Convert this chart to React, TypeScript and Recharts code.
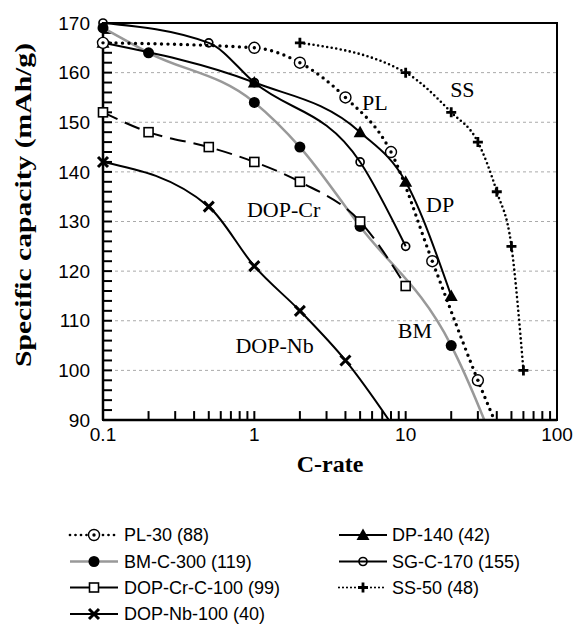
import React from 'react';
import { LineChart, Line, XAxis, YAxis, CartesianGrid, ReferenceArea, ReferenceDot, ReferenceLine, Legend, Label } from 'recharts';

// C-rate (x) and specific capacity in mAh/g (y) for every sample
const plRate = [0.1, 1, 2, 4, 8, 15, 30, 50];
const plCap = [166, 165, 162, 155, 144, 122, 98, 82];

const dpRate = [0.1, 1, 5, 10, 20];
const dpCap = [166, 158, 148, 138, 115];

const bmRate = [0.1, 0.2, 1, 2, 5, 20, 50];
const bmCap = [169, 164, 154, 145, 129, 105, 76];

const sgRate = [0.1, 0.5, 1, 5, 10];
const sgCap = [170, 166, 158, 142, 125];

const crRate = [0.1, 0.2, 0.5, 1, 2, 5, 10];
const crCap = [152, 148, 145, 142, 138, 130, 117];

const ssRate = [2, 10, 20, 30, 40, 50, 60];
const ssCap = [166, 160, 152, 146, 136, 125, 100];

const nbRate = [0.1, 0.5, 1, 2, 4, 10];
const nbCap = [142, 133, 121, 112, 102, 85];

// axis ticks (labelled) and the small inward tick marks
const xTicks = [0.1, 1, 10, 100];
const xMinor = [
  0.2, 0.3, 0.4, 0.5, 0.6, 0.7, 0.8, 0.9,
  1, 2, 3, 4, 5, 6, 7, 8, 9,
  10, 20, 30, 40, 50, 60, 70, 80, 90,
];
const yTicks = [90, 100, 110, 120, 130, 140, 150, 160, 170];
const yMinor = Array.from({ length: 39 }, (_, i) => 92 + i * 2);

// in-plot labels
const noteText = ['PL', 'SS', 'DP', 'DOP-Cr', 'DOP-Nb', 'BM'];
const noteRate = [6.25, 23.7, 16.9, 1.56, 1.36, 11.5];
const noteCap = [154, 156.6, 133.4, 132.4, 105, 108];

const SANS = '"Liberation Sans", Arial, sans-serif';
const SERIF = '"Liberation Serif", "Times New Roman", serif';

type Mark = (cx: number, cy: number) => React.ReactNode;

const ring: Mark = (cx, cy) => (
  <>
    <circle cx={cx} cy={cy} r={5.5} fill="#fff" stroke="#000" strokeWidth={1.4} />
    <circle cx={cx} cy={cy} r={1.7} fill="#000" />
  </>
);
const tri: Mark = (cx, cy) => (
  <polygon points={`${cx},${cy - 6.5} ${cx + 6.5},${cy + 5} ${cx - 6.5},${cy + 5}`} fill="#000" />
);
const disc: Mark = (cx, cy) => <circle cx={cx} cy={cy} r={5.5} fill="#000" />;
const hollow: Mark = (cx, cy) => <circle cx={cx} cy={cy} r={4} fill="none" stroke="#000" strokeWidth={1.7} />;
const square: Mark = (cx, cy) => (
  <rect x={cx - 4.5} y={cy - 4.5} width={9} height={9} fill="#fff" stroke="#000" strokeWidth={1.6} />
);
const plus: Mark = (cx, cy) => (
  <path d={`M${cx - 5},${cy}H${cx + 5}M${cx},${cy - 5}V${cy + 5}`} stroke="#000" strokeWidth={2.8} />
);
const cross: Mark = (cx, cy) => (
  <path d={`M${cx - 5},${cy - 5}L${cx + 5},${cy + 5}M${cx + 5},${cy - 5}L${cx - 5},${cy + 5}`} stroke="#000" strokeWidth={3} />
);

interface Series {
  name: string;
  rate: number[];
  cap: number[];
  stroke: string;
  width: number;
  dash?: string;
  round?: boolean;
  legendDash?: string;
  mark: Mark;
}

const SERIES: Series[] = [
  { name: 'BM-C-300 (119)', rate: bmRate, cap: bmCap, stroke: '#999', width: 2.5, mark: disc },
  { name: 'DOP-Cr-C-100 (99)', rate: crRate, cap: crCap, stroke: '#000', width: 2, dash: '16 8', mark: square },
  { name: 'DOP-Nb-100 (40)', rate: nbRate, cap: nbCap, stroke: '#000', width: 2, mark: cross },
  { name: 'SG-C-170 (155)', rate: sgRate, cap: sgCap, stroke: '#000', width: 2, mark: hollow },
  { name: 'DP-140 (42)', rate: dpRate, cap: dpCap, stroke: '#000', width: 2, mark: tri },
  { name: 'PL-30 (88)', rate: plRate, cap: plCap, stroke: '#000', width: 3.4, dash: '0 6.5', round: true, legendDash: '0 5.5', mark: ring },
  { name: 'SS-50 (48)', rate: ssRate, cap: ssCap, stroke: '#000', width: 2.6, dash: '0 4.6', round: true, legendDash: '0 4', mark: plus },
];

// legend: [series name, column, row]
const legendOrder: [string, number, number][] = [
  ['PL-30 (88)', 0, 0],
  ['BM-C-300 (119)', 0, 1],
  ['DOP-Cr-C-100 (99)', 0, 2],
  ['DOP-Nb-100 (40)', 0, 3],
  ['DP-140 (42)', 1, 0],
  ['SG-C-170 (155)', 1, 1],
  ['SS-50 (48)', 1, 2],
];

const toPoints = (rate: number[], cap: number[]) => rate.map((c, i) => ({ c, cap: cap[i] }));

// tick mark lengths, in axis units (about 9px each)
const X_TICK_LEN = 1.8; // capacity units, for marks on the C-rate axis
const Y_TICK_FACTOR = 1.147; // log step, for marks on the capacity axis

const LegendBox = () => {
  const colX = [70, 339];
  const rowY = [20, 46.5, 72.5, 99];
  return (
    <svg width={585} height={115} style={{ display: 'block' }}>
      {legendOrder.map(([name, col, row]) => {
        const s = SERIES.find((d) => d.name === name)!;
        const x0 = colX[col];
        const y = rowY[row];
        return (
          <g key={name}>
            <line
              x1={x0}
              x2={x0 + 48}
              y1={y}
              y2={y}
              stroke={s.stroke}
              strokeWidth={s.round ? s.width * 0.8 : s.width}
              strokeDasharray={s.legendDash}
              strokeLinecap={s.round ? 'round' : 'butt'}
            />
            {s.mark(x0 + 24, y)}
            <text x={col === 0 ? 124 : 392} y={y} dominantBaseline="central" fontFamily={SANS} fontSize={18} fill="#000">
              {name}
            </text>
          </g>
        );
      })}
    </svg>
  );
};

export default function App() {
  return (
    <div style={{ position: 'absolute', left: 0, top: 0 }}>
      <LineChart width={585} height={639} margin={{ top: 23, right: 28, left: 0, bottom: 159 }}>
        <CartesianGrid horizontal vertical={false} stroke="#aaa" strokeDasharray="3 3" />
        <XAxis
          dataKey="c"
          type="number"
          scale="log"
          domain={[0.1, 100]}
          ticks={xTicks}
          interval={0}
          height={60}
          tickLine={false}
          axisLine={{ stroke: '#000', strokeWidth: 2.5 }}
          tick={{ fill: '#000', fontSize: 19, fontFamily: SANS }}
          tickFormatter={(v: number) => String(v)}
        >
          <Label
            content={(props: any) => {
              const vb = props.viewBox;
              return (
                <text x={vb.x + vb.width / 2} y={vb.y + 52} textAnchor="middle" fontFamily={SERIF} fontWeight="bold" fontSize={24} fill="#000">
                  C-rate
                </text>
              );
            }}
          />
        </XAxis>
        <YAxis
          type="number"
          domain={[90, 170]}
          ticks={yTicks}
          interval={0}
          width={103}
          tickLine={false}
          tickMargin={7}
          axisLine={{ stroke: '#000', strokeWidth: 2.5 }}
          tick={{ fill: '#000', fontSize: 19, fontFamily: SANS }}
        >
          <Label
            content={(props: any) => {
              const vb = props.viewBox;
              const cy = vb.y + vb.height / 2 - 16.5;
              return (
                <text
                  x={22.5}
                  y={cy}
                  transform={`rotate(-90 22.5 ${cy})`}
                  textAnchor="middle"
                  dominantBaseline="central"
                  fontFamily={SERIF}
                  fontWeight="bold"
                  fontSize={24}
                  fill="#000"
                  textLength={324}
                  lengthAdjust="spacingAndGlyphs"
                >
                  Specific capacity (mAh/g)
                </text>
              );
            }}
          />
        </YAxis>
        <YAxis yAxisId="clip" type="number" domain={[90, 170]} allowDataOverflow hide />

        {xMinor.map((v) => (
          <ReferenceLine
            key={`xt-${v}`}
            segment={[{ x: v, y: 90 }, { x: v, y: 90 + X_TICK_LEN }]}
            stroke="#000"
            strokeWidth={2}
            ifOverflow="visible"
          />
        ))}
        {yMinor.map((v) => (
          <ReferenceLine
            key={`yt-${v}`}
            segment={[{ x: 0.1, y: v }, { x: 0.1 * Y_TICK_FACTOR, y: v }]}
            stroke="#000"
            strokeWidth={2}
            ifOverflow="visible"
          />
        ))}

        <ReferenceArea x1={0.1} x2={100} y1={90} y2={170} fill="none" stroke="#000" strokeWidth={2} ifOverflow="visible" />

        {SERIES.map((s) => (
          <Line
            key={`${s.name}-curve`}
            data={toPoints(s.rate, s.cap)}
            dataKey="cap"
            yAxisId="clip"
            type="monotone"
            stroke={s.stroke}
            strokeWidth={s.width}
            strokeDasharray={s.dash}
            strokeLinecap={s.round ? 'round' : 'butt'}
            dot={false}
            activeDot={false}
            isAnimationActive={false}
          />
        ))}
        {SERIES.map((s) => (
          <Line
            key={`${s.name}-marks`}
            data={toPoints(s.rate, s.cap).filter((p) => p.cap >= 90)}
            dataKey="cap"
            stroke="none"
            dot={(p: any) => <g key={`${s.name}-${p.index}`}>{s.mark(p.cx, p.cy)}</g>}
            activeDot={false}
            isAnimationActive={false}
          />
        ))}

        {noteText.map((t, i) => (
          <ReferenceDot
            key={t}
            x={noteRate[i]}
            y={noteCap[i]}
            r={0}
            fill="none"
            stroke="none"
            label={{ value: t, position: 'center', fontFamily: SERIF, fontSize: 22, fill: '#000' }}
          />
        ))}

        <Legend
          verticalAlign="middle"
          align="center"
          layout="horizontal"
          wrapperStyle={{ top: 515, left: 0, width: 585 }}
          content={() => <LegendBox />}
        />
      </LineChart>
    </div>
  );
}
